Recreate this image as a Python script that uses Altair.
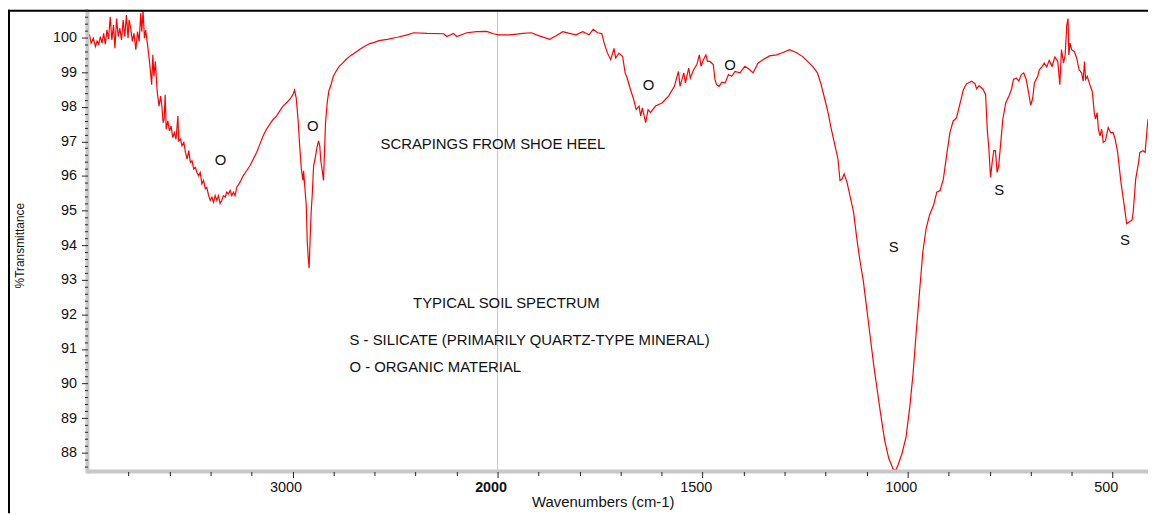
import altair as alt
import pandas as pd

# ---- spectrum ----
wavenumber = [
    4000, 3990, 3982, 3971, 3961, 3953, 3945, 3937, 3929, 3921, 3913, 3905, 3897, 3889, 3881, 3873,
    3866, 3858, 3850, 3842, 3834, 3826, 3818, 3810, 3802, 3797, 3789, 3781, 3773, 3764, 3756, 3748,
    3740, 3735, 3729, 3722, 3716, 3711, 3708, 3700, 3692, 3687, 3681, 3676, 3669, 3664, 3660, 3651,
    3643, 3637, 3631, 3626, 3621, 3616, 3608, 3600, 3592, 3584, 3576, 3568, 3559, 3555, 3546, 3539,
    3530, 3522, 3514, 3506, 3498, 3490, 3482, 3474, 3466, 3458, 3450, 3442, 3434, 3425, 3418, 3409,
    3401, 3393, 3385, 3377, 3369, 3361, 3353, 3345, 3337, 3328, 3321, 3312, 3304, 3296, 3288, 3280,
    3272, 3256, 3240, 3224, 3207, 3191, 3175, 3159, 3143, 3127, 3111, 3094, 3078, 3062, 3046, 3030,
    3014, 2998, 2990, 2982, 2973, 2965, 2957, 2949, 2946, 2938, 2933, 2928, 2923, 2919, 2914, 2909,
    2904, 2897, 2890, 2881, 2873, 2867, 2862, 2856, 2849, 2844, 2839, 2831, 2823, 2812, 2801, 2788,
    2772, 2756, 2740, 2723, 2699, 2675, 2650, 2626, 2602, 2578, 2538, 2489, 2441, 2408, 2344, 2263,
    2247, 2215, 2199, 2150, 2102, 2053, 2021, 1998, 1970, 1938, 1918, 1898, 1873, 1857, 1841, 1825,
    1809, 1792, 1777, 1767, 1756, 1746, 1740, 1732, 1724, 1716, 1712, 1704, 1695, 1689, 1684, 1676,
    1668, 1662, 1655, 1651, 1647, 1639, 1633, 1627, 1615, 1599, 1583, 1569, 1559, 1555, 1546, 1542,
    1534, 1530, 1522, 1514, 1508, 1504, 1498, 1492, 1488, 1482, 1474, 1470, 1466, 1460, 1453, 1445,
    1437, 1429, 1421, 1409, 1397, 1385, 1377, 1365, 1353, 1337, 1320, 1304, 1288, 1272, 1256, 1244,
    1232, 1220, 1211, 1203, 1195, 1187, 1179, 1170, 1165, 1160, 1155, 1148, 1140, 1132, 1124, 1116,
    1108, 1100, 1090, 1082, 1074, 1066, 1056, 1046, 1036, 1030, 1024, 1014, 1004, 995, 987, 979,
    971, 963, 955, 947, 937, 929, 921, 913, 905, 897, 889, 881, 872, 864, 856, 844,
    836, 832, 826, 816, 810, 806, 802, 798, 794, 790, 786, 782, 778, 773, 768, 761,
    753, 747, 742, 735, 729, 723, 717, 711, 705, 700, 695, 691, 683, 679, 672, 667,
    661, 655, 648, 641, 634, 629, 625, 620, 616, 612, 609, 607, 604, 600, 594, 588,
    582, 576, 572, 569, 566, 562, 556, 550, 545, 542, 538, 535, 531, 527, 523, 518,
    511, 505, 499, 494, 488, 480, 472, 466, 460, 453, 450, 444, 437, 434, 426, 421,
    417, 414,
]
transmittance = [
    100.05, 100.08, 99.84, 99.98, 99.74, 99.90, 99.81, 100.03, 99.84, 100.12, 99.81, 100.22, 99.96, 100.60, 99.93, 100.36,
    99.69, 100.55, 100.03, 100.27, 99.93, 100.51, 100.03, 100.65, 99.98, 100.51, 100.27, 99.89, 100.12, 99.65, 100.17, 99.89,
    100.70, 100.17, 100.78, 99.98, 100.22, 99.98, 99.84, 99.45, 98.98, 98.64, 99.50, 98.88, 99.31, 98.83, 98.45, 98.02,
    98.31, 98.02, 97.54, 97.64, 98.35, 97.35, 97.59, 97.30, 97.44, 97.11, 97.25, 97.06, 97.73, 97.01, 97.06, 96.87,
    96.97, 96.68, 96.49, 96.73, 96.39, 96.44, 96.20, 96.25, 96.10, 96.01, 96.10, 95.77, 95.87, 95.63, 95.67, 95.43,
    95.29, 95.39, 95.24, 95.43, 95.29, 95.43, 95.20, 95.29, 95.43, 95.39, 95.53, 95.48, 95.58, 95.43, 95.53, 95.43,
    95.67, 95.82, 96.01, 96.15, 96.30, 96.49, 96.68, 96.92, 97.16, 97.35, 97.49, 97.64, 97.73, 97.88, 98.02, 98.11,
    98.21, 98.35, 98.48, 98.26, 97.64, 96.87, 96.20, 95.87, 96.15, 95.53, 95.15, 94.09, 93.62, 93.33, 94.19, 94.96,
    95.43, 96.30, 96.49, 96.82, 97.01, 96.87, 96.44, 96.20, 95.87, 96.68, 97.54, 98.11, 98.45, 98.64, 98.88, 99.02,
    99.17, 99.26, 99.36, 99.45, 99.55, 99.65, 99.74, 99.82, 99.86, 99.91, 99.95, 100.01, 100.08, 100.14, 100.12, 100.11,
    100.03, 100.12, 100.03, 100.14, 100.17, 100.18, 100.11, 100.08, 100.08, 100.12, 100.14, 100.05, 99.95, 100.05, 100.17, 100.12,
    100.08, 100.17, 100.08, 100.24, 100.14, 100.12, 99.84, 99.55, 99.36, 99.69, 99.41, 99.55, 99.45, 98.98, 98.83, 98.50,
    98.21, 97.92, 98.02, 97.73, 97.97, 97.54, 97.92, 97.83, 98.02, 98.11, 98.31, 98.59, 99.02, 98.59, 98.98, 98.69,
    99.12, 98.83, 99.07, 99.22, 99.50, 99.17, 99.36, 99.50, 99.31, 99.31, 99.22, 98.79, 98.64, 98.59, 98.71, 98.69,
    98.93, 98.88, 99.02, 98.98, 99.17, 99.07, 98.98, 99.26, 99.36, 99.47, 99.50, 99.57, 99.65, 99.57, 99.45, 99.31,
    99.17, 98.98, 98.64, 98.26, 97.88, 97.40, 96.97, 96.49, 95.87, 95.91, 96.06, 95.82, 95.39, 94.96, 94.19, 93.52,
    92.95, 92.18, 91.22, 90.46, 89.79, 89.12, 88.35, 87.83, 87.54, 87.47, 87.63, 87.97, 88.45, 89.31, 90.27, 91.51,
    92.66, 93.81, 94.48, 94.86, 95.15, 95.53, 95.58, 95.91, 96.60, 97.25, 97.59, 97.68, 98.11, 98.50, 98.67, 98.74,
    98.67, 98.52, 98.61, 98.50, 98.35, 97.35, 96.78, 95.96, 96.39, 96.73, 96.73, 96.10, 96.30, 96.97, 97.64, 98.11,
    98.31, 98.50, 98.79, 98.83, 98.74, 98.93, 98.98, 98.79, 98.40, 98.04, 98.26, 98.69, 98.88, 99.07, 99.17, 99.26,
    99.15, 99.34, 99.17, 99.44, 99.31, 98.64, 99.65, 99.26, 99.50, 100.36, 100.55, 99.50, 99.84, 99.65, 99.60, 99.41,
    99.07, 98.98, 98.74, 99.31, 98.79, 98.88, 98.64, 98.45, 97.83, 97.64, 97.83, 97.35, 97.16, 97.35, 96.97, 97.01,
    97.40, 97.25, 97.25, 97.06, 96.68, 95.82, 95.15, 94.62, 94.67, 94.72, 94.96, 95.91, 96.39, 96.68, 96.73, 96.68,
    97.25, 97.64,
]

# ---- annotations ----
peak_marks = ["O", "O", "O", "O", "S", "S", "S"]
peak_w = [3351, 2901, 1632, 1433, 1034, 777, 470]
peak_v = [96.47, 97.44, 98.62, 99.20, 93.94, 95.58, 94.14]

notes = [
    "SCRAPINGS FROM SHOE HEEL",
    "TYPICAL SOIL SPECTRUM",
    "S - SILICATE (PRIMARILY QUARTZ-TYPE MINERAL)",
    "O - ORGANIC MATERIAL",
]
notes_w = [2571, 2412, 2722, 2722]
notes_v = [96.93, 92.33, 91.27, 90.47]

# ---- axes ----
x_domain = [4000, 2000, 414]
x_range = [0, 413, 1068]
y_domain = [87.455, 100.804]
x_ticks = [3800, 3600, 3400, 3200, 3000, 2800, 2600, 2400, 2200, 2000,
           1900, 1800, 1700, 1600, 1500, 1400, 1300, 1200, 1100, 1000,
           900, 800, 700, 600, 500]
y_ticks = [round(87.6 + 0.2 * i, 1) for i in range(67)]

FONT = "Liberation Sans"
W, H = 1068, 465
BAR = "#c8c8c8"

df = pd.DataFrame({"wavenumber": wavenumber, "transmittance": transmittance})
peaks_df = pd.DataFrame({"wavenumber": peak_w, "transmittance": peak_v, "txt": peak_marks})
notes_df = pd.DataFrame({"wavenumber": notes_w, "transmittance": notes_v, "txt": notes})
one = pd.DataFrame({"a": [0]})

x_enc = alt.X(
    "wavenumber:Q",
    scale=alt.Scale(domain=x_domain, range=x_range, zero=False, nice=False),
    axis=alt.Axis(
        values=x_ticks,
        tickCount=500,
        domain=False,
        zindex=1,
        labelExpr="datum.value % 500 === 0 ? format(datum.value, 'd') : ''",
        labelOverlap=False,
        labelFlush=False,
        labelOffset=-7,
        labelFontWeight={"condition": {"test": "datum.value === 2000", "value": "bold"}, "value": "normal"},
        tickSize={"condition": {"test": "datum.value % 500 === 0", "value": 6}, "value": 4},
        labelPadding=3,
        title="Wavenumbers (cm-1)",
        titleX=519,
        titleY=30,
        titleBaseline="middle",
        titleAlign="center",
    ),
)
y_enc = alt.Y(
    "transmittance:Q",
    scale=alt.Scale(domain=y_domain, zero=False, nice=False),
    axis=alt.Axis(
        values=y_ticks,
        tickCount=500,
        domain=False,
        zindex=1,
        labelExpr="abs(datum.value - round(datum.value)) < 0.01 ? format(round(datum.value), 'd') : ''",
        labelOverlap=False,
        labelFlush=False,
        tickSize={"condition": {"test": "abs(datum.value - round(datum.value)) < 0.01", "value": 6}, "value": 3},
        labelPadding=5,
        title="%Transmittance",
        titleFontSize=12,
        titleAngle=-90,
        titleX=-68,
        titleY=237,
        titleAlign="center",
        titleBaseline="middle",
    ),
)

spectrum = alt.Chart(df).mark_line(color="#ff0000", strokeWidth=1.2, clip=True).encode(x=x_enc, y=y_enc)

vline = alt.Chart(one).mark_rule(color="#c4c4c4", strokeWidth=1).encode(x=alt.datum(2000))

# thick light-grey axis bars (drawn as marks, ticks from the axes sit on top)
x_bar = alt.Chart(one).mark_rule(color=BAR, strokeWidth=4).encode(
    x=alt.value(0), x2=alt.value(W), y=alt.value(H)
)
y_bar = alt.Chart(one).mark_rule(color=BAR, strokeWidth=4).encode(
    x=alt.value(0), y=alt.value(0), y2=alt.value(H + 2)
)

peak_text = alt.Chart(peaks_df).mark_text(
    font=FONT, fontSize=15, color="#111111", align="center", baseline="middle"
).encode(x="wavenumber:Q", y="transmittance:Q", text="txt:N")

note_text = alt.Chart(notes_df).mark_text(
    font=FONT, fontSize=15, color="#111111", align="left", baseline="middle"
).encode(x="wavenumber:Q", y="transmittance:Q", text="txt:N")

frame_top = alt.Chart(one).mark_rule(color="black", strokeWidth=2).encode(
    x=alt.value(-80), x2=alt.value(W), y=alt.value(1)
)
frame_left = alt.Chart(one).mark_rule(color="black", strokeWidth=2).encode(
    x=alt.value(-79), y=alt.value(0), y2=alt.value(H + 42)
)

chart = (
    alt.layer(vline, spectrum, x_bar, y_bar, peak_text, note_text, frame_top, frame_left)
    .properties(
        width=W,
        height=H,
        autosize=alt.AutoSizeParams(type="none"),
        padding={"left": 80, "top": 0, "right": 0, "bottom": 42},
        background="white",
    )
    .configure_view(stroke=None)
    .configure_axis(
        grid=False,
        tickColor="#222222",
        tickWidth=1,
        labelFont=FONT,
        labelFontSize=14.5,
        labelColor="#111111",
        titleFont=FONT,
        titleFontSize=15,
        titleFontWeight="normal",
        titleColor="#111111",
    )
)

chart.save("out.html", embed_options={"renderer": "svg", "actions": False})
